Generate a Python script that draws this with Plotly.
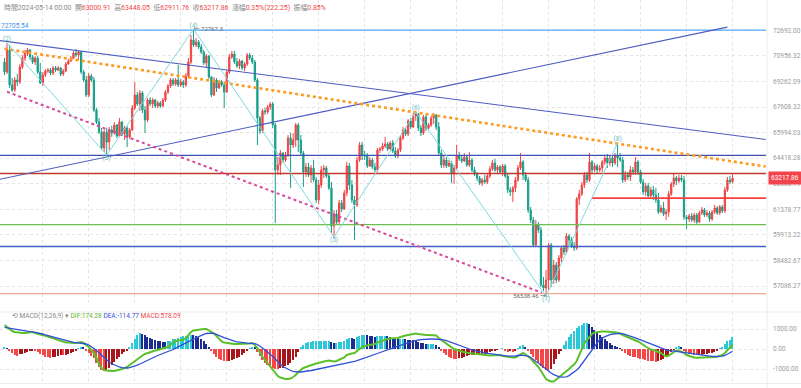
import math
import plotly.graph_objects as go

# ---------------- data (4H candles, index 0..285, last = 2024-05-14 00:00) ----------------
opens = [
    70548, 69884, 71352, 69031, 68706, 69358, 69227, 70215, 70815, 71150,
    71352, 70882, 70548, 70815, 69884, 69162, 69686, 69950, 70016, 69818,
    70149, 70016, 70149, 69752, 69950, 70415, 70614, 70815, 71150, 71016,
    71218, 69884, 69358, 68382, 69620, 69358, 67420, 66660, 66033, 65043,
    66033, 65412, 66158, 65971, 66471, 65784, 66660, 65908, 66283, 65722,
    66158, 67548, 68382, 67803, 68512, 67420, 66786, 68060, 67803, 68060,
    67675, 67867, 67675, 68060, 68576, 68966, 69358, 69096, 69358, 69031,
    69227, 69031, 69620, 70548, 72029, 71690, 71893, 71555, 71218, 70481,
    70949, 69555, 68382, 69358, 68836, 69227, 69031, 68576, 69884, 70882,
    71083, 70548, 70282, 70614, 70149, 70415, 71016, 70815, 70548, 69358,
    66912, 66096, 67356, 67293, 67611, 67803, 66471, 63705, 64007, 64736,
    64310, 64614, 65660, 65227, 65536, 66471, 65536, 64736, 63585, 63886,
    63405, 63826, 63106, 61925, 62809, 63705, 63826, 63345, 62631, 60423,
    61112, 60652, 61750, 61401, 62336, 63947, 62809, 61925, 61633, 64310,
    65227, 64614, 64553, 63947, 64310, 63886, 63705, 64920, 64981, 65166,
    65289, 64981, 65351, 64859, 64553, 64920, 65660, 66158, 65908, 66723,
    66346, 67039, 67166, 66283, 65971, 66976, 66283, 66471, 66912, 67102,
    66346, 64736, 64007, 64310, 63947, 64128, 63465, 63826, 64553, 64371,
    64249, 64492, 64007, 64310, 63705, 63465, 63226, 62928, 63106, 62987,
    63345, 63765, 64128, 63705, 63886, 63585, 63947, 63345, 62513, 62395,
    62631, 63106, 63826, 64189, 63405, 63106, 61343, 60766, 59348, 60480,
    60195, 57147, 56985, 57418, 59348, 57418, 58237, 57418, 58624, 59180,
    58957, 59854, 59628, 59292, 59180, 61984, 62277, 62809, 63405, 63106,
    64189, 63705, 63947, 63705, 63826, 64189, 64432, 64128, 64432, 64128,
    64553, 64432, 64310, 63106, 63405, 63285, 63705, 63585, 64189, 63585,
    62987, 62395, 62750, 62159, 62513, 62218, 61925, 61227, 61459, 61112,
    61227, 62277, 62868, 63226, 63047, 63226, 63106, 60939, 60824, 60996,
    60766, 61054, 60652, 61170, 61343, 61054, 61170, 60824, 61227, 61459,
    61170, 61517, 61285, 62513, 63106, 63000.91,
]
highs = [
    70815, 71826, 71690, 69489, 69555, 69752, 70415, 71016, 71352, 71487,
    71420, 71016, 70949, 70949, 70481, 69884, 70082, 70149, 70149, 70282,
    70282, 70282, 70215, 70082, 70548, 70748, 70949, 71285, 71420, 71352,
    71285, 70016, 69620, 69818, 69752, 69555, 67548, 66912, 66283, 66158,
    66283, 66346, 66408, 66660, 66534, 66912, 66723, 66408, 66408, 66283,
    67739, 69227, 68576, 68706, 68641, 67675, 68189, 68253, 68189, 68124,
    67996, 67996, 68189, 68706, 69096, 69489, 69489, 69489, 70348, 69424,
    69358, 69818, 70815, 72370, 72767.3, 72165, 72029, 71758, 71352, 71083,
    71016, 69620, 69555, 69489, 69358, 69358, 69227, 70016, 71083, 71285,
    71285, 70815, 70748, 70681, 70548, 71150, 71150, 71016, 70681, 69489,
    67039, 67484, 67548, 67739, 67932, 67932, 66597, 64492, 64920, 64798,
    64798, 65846, 65971, 65971, 66597, 66597, 65846, 64859, 64128, 64128,
    64007, 64310, 63285, 63106, 63947, 64007, 63947, 63525, 62987, 61343,
    61343, 61925, 61925, 62513, 64189, 64128, 63106, 62159, 64492, 65412,
    65412, 64859, 64736, 64492, 64432, 64128, 65043, 65104, 65351, 65722,
    65412, 65474, 65536, 65104, 65043, 65846, 66346, 66346, 66849, 66912,
    67229, 67293, 67229, 66471, 67102, 67102, 66597, 67039, 67229, 67166,
    66660, 64920, 64614, 64492, 64310, 64249, 64007, 65227, 64798, 64614,
    64736, 64614, 64798, 64432, 63886, 63585, 63345, 63226, 63405, 63465,
    63947, 64310, 64371, 64007, 64007, 64068, 64068, 63465, 62690, 62750,
    63285, 64007, 64736, 64310, 63585, 63285, 61517, 60939, 60766, 60652,
    60366, 57580, 57963, 59460, 59460, 58513, 58403, 58790, 59292, 59348,
    60025, 59968, 59798, 59516, 62101, 62513, 62987, 63585, 63585, 64736,
    64310, 64128, 64068, 64007, 64310, 64614, 64675, 64614, 64553, 64736,
    65351, 64736, 64492, 63645, 63585, 63947, 63886, 64492, 64310, 63705,
    63166, 62928, 62928, 62690, 62750, 62631, 62336, 61633, 61808, 61401,
    62454, 62987, 63525, 63345, 63405, 63405, 63345, 61054, 61112, 61170,
    61170, 61170, 61285, 61517, 61459, 61343, 61285, 61343, 61633, 61575,
    61633, 61633, 62690, 63285, 63345, 63448.05,
]
lows = [
    69686, 69752, 68836, 68576, 68576, 68966, 69096, 70082, 70614, 70949,
    70681, 70415, 70348, 69752, 69096, 68966, 69555, 69818, 69686, 69686,
    69884, 69950, 69620, 69620, 69884, 70348, 70548, 70748, 70882, 70681,
    69752, 69227, 68253, 68253, 69227, 67293, 66534, 65908, 64920, 64798,
    64614, 64920, 65722, 65846, 65660, 65722, 65784, 65536, 65104, 65598,
    66096, 67420, 67675, 67356, 67229, 65971, 66660, 67675, 67548, 67548,
    67548, 67548, 67611, 67932, 68447, 68836, 68966, 68966, 68901, 68901,
    68836, 68901, 69489, 70415, 71555, 71555, 71420, 71083, 70348, 70149,
    69424, 68253, 68318, 68576, 68771, 68901, 67548, 68512, 69752, 70748,
    70415, 70149, 70082, 70016, 69950, 70282, 70681, 70415, 69227, 65227,
    65908, 65971, 67102, 67166, 67420, 66283, 60594, 63405, 63405, 64128,
    64189, 64492, 62631, 65043, 65104, 64798, 64614, 62690, 63285, 63285,
    62928, 62987, 61750, 61691, 62631, 63226, 63226, 62513, 60025, 59798,
    60480, 60537, 61227, 61343, 62159, 62513, 61750, 59628, 61517, 64189,
    64310, 64310, 63826, 63886, 63765, 63585, 63585, 64736, 64859, 65043,
    64859, 64920, 64736, 64432, 64432, 64798, 65536, 65784, 65784, 66221,
    66283, 66723, 66096, 65784, 65846, 66096, 66158, 66346, 66534, 66158,
    64553, 63826, 63826, 63826, 63886, 62928, 62868, 63705, 64249, 64128,
    64189, 63886, 63886, 63585, 63345, 63047, 62809, 62750, 62868, 62868,
    63226, 63645, 63585, 63525, 63465, 63345, 63226, 62336, 62159, 61808,
    62395, 62987, 63705, 63106, 62987, 61170, 60594, 59236, 59236, 60025,
    57039, 56824, 56538.46, 56878, 57039, 57201, 57255, 57310, 58403, 58790,
    58846, 59236, 59180, 59012, 59068, 61633, 62159, 62631, 62928, 62987,
    63525, 63585, 63525, 63585, 63585, 64007, 63826, 63947, 63886, 64007,
    63886, 64189, 62928, 62987, 63106, 63047, 63405, 63405, 63405, 62868,
    62218, 62159, 62042, 62101, 61925, 61750, 61112, 61170, 60996, 60766,
    60939, 62159, 62690, 62809, 62928, 62987, 60766, 60252, 60652, 60652,
    60594, 60537, 60594, 61054, 60939, 60939, 60652, 60709, 61112, 61054,
    61054, 61170, 61170, 62395, 62868, 62911.76,
]
closes = [
    69884, 71352, 69031, 68706, 69358, 69227, 70215, 70815, 71150, 71352,
    70882, 70548, 70815, 69884, 69162, 69686, 69950, 70016, 69818, 70149,
    70016, 70149, 69752, 69950, 70415, 70614, 70815, 71150, 71016, 71218,
    69884, 69358, 68382, 69620, 69358, 67420, 66660, 66033, 65043, 66033,
    65412, 66158, 65971, 66471, 65784, 66660, 65908, 66283, 65722, 66158,
    67548, 68382, 67803, 68512, 67420, 66786, 68060, 67803, 68060, 67675,
    67867, 67675, 68060, 68576, 68966, 69358, 69096, 69358, 69031, 69227,
    69031, 69620, 70548, 72029, 71690, 71893, 71555, 71218, 70481, 70949,
    69555, 68382, 69358, 68836, 69227, 69031, 68576, 69884, 70882, 71083,
    70548, 70282, 70614, 70149, 70415, 71016, 70815, 70548, 69358, 66912,
    66096, 67356, 67293, 67611, 67803, 66471, 63705, 64007, 64736, 64310,
    64614, 65660, 65227, 65536, 66471, 65536, 64736, 63585, 63886, 63405,
    63826, 63106, 61925, 62809, 63705, 63826, 63345, 62631, 60423, 61112,
    60652, 61750, 61401, 62336, 63947, 62809, 61925, 61633, 64310, 65227,
    64614, 64553, 63947, 64310, 63886, 63705, 64920, 64981, 65166, 65289,
    64981, 65351, 64859, 64553, 64920, 65660, 66158, 65908, 66723, 66346,
    67039, 67166, 66283, 65971, 66976, 66283, 66471, 66912, 67102, 66346,
    64736, 64007, 64310, 63947, 64128, 63465, 63826, 64553, 64371, 64249,
    64492, 64007, 64310, 63705, 63465, 63226, 62928, 63106, 62987, 63345,
    63765, 64128, 63705, 63886, 63585, 63947, 63345, 62513, 62395, 62631,
    63106, 63826, 64189, 63405, 63106, 61343, 60766, 59348, 60480, 60195,
    57147, 56985, 57418, 59348, 57418, 58237, 57418, 58624, 59180, 58957,
    59854, 59628, 59292, 59180, 61984, 62277, 62809, 63405, 63106, 64189,
    63705, 63947, 63705, 63826, 64189, 64432, 64128, 64432, 64128, 64553,
    64432, 64310, 63106, 63405, 63285, 63705, 63585, 64189, 63585, 62987,
    62395, 62750, 62159, 62513, 62218, 61925, 61227, 61459, 61112, 61227,
    62277, 62868, 63226, 63047, 63226, 63106, 60939, 60824, 60996, 60766,
    61054, 60652, 61170, 61343, 61054, 61170, 60824, 61227, 61459, 61170,
    61517, 61285, 62513, 63106, 63001, 63217.86,
]

dif = [
    1200, 1100, 1000, 900, 850, 825, 800, 800, 800, 825,
    850, 850, 800, 750, 725, 700, 675, 625, 575, 550,
    500, 450, 400, 350, 325, 325, 300, 300, 300, 325,
    350, 300, 200, 100, -50, -200, -450, -750, -950, -1050,
    -1075, -1100, -1100, -1100, -1075, -1050, -1000, -950, -900, -800,
    -700, -600, -500, -400, -325, -250, -200, -150, -100, -75,
    -50, 0, 50, 75, 100, 200, 350, 400, 425, 450,
    450, 550, 700, 850, 925, 950, 975, 1000, 1000, 1000,
    925, 850, 775, 650, 500, 375, 325, 300, 275, 250,
    250, 250, 250, 250, 250, 250, 275, 300, 200, 50,
    -200, -400, -550, -700, -850, -1000, -1200, -1350, -1425, -1475,
    -1500, -1500, -1475, -1400, -1300, -1150, -1050, -950, -900, -850,
    -800, -750, -725, -700, -650, -625, -600, -575, -600, -625,
    -600, -550, -500, -425, -300, -250, -225, -200, -100, 25,
    100, 150, 175, 200, 225, 250, 325, 375, 425, 475,
    500, 525, 525, 525, 550, 600, 650, 675, 700, 725,
    750, 775, 750, 725, 725, 700, 700, 700, 700, 675,
    550, 450, 350, 250, 160, 80, 0, -50, -90, -130,
    -160, -190, -210, -230, -250, -270, -290, -300, -310, -315,
    -320, -315, -310, -305, -300, -350, -375, -400, -400, -425,
    -425, -350, -250, -200, -275, -375, -475, -625, -750, -900,
    -1100, -1300, -1500, -1575, -1625, -1625, -1525, -1425, -1300, -1200,
    -1125, -1000, -875, -775, -600, -300, 50, 300, 450, 600,
    750, 825, 850, 865, 875, 875, 875, 865, 850, 835,
    815, 775, 700, 650, 600, 550, 500, 450, 375, 300,
    200, 125, 50, -25, -50, -100, -150, -200, -300, -375,
    -325, -250, -150, -75, -75, -125, -200, -300, -350, -400,
    -425, -435, -435, -425, -415, -415, -415, -400, -400, -385,
    -350, -300, -200, -50, 80, 174.28,
]
dea = [
    1085, 1060, 1035, 1010, 985, 960, 935, 915, 900, 885,
    870, 860, 840, 810, 780, 750, 710, 675, 635, 600,
    560, 520, 480, 440, 400, 370, 350, 330, 315, 305,
    300, 285, 250, 200, 125, 25, -75, -200, -325, -440,
    -550, -650, -740, -800, -850, -900, -930, -950, -950, -930,
    -900, -860, -810, -750, -685, -620, -550, -490, -430, -375,
    -325, -275, -225, -185, -150, -85, -25, 40, 100, 150,
    210, 275, 350, 420, 490, 560, 625, 685, 735, 775,
    790, 790, 775, 735, 675, 620, 570, 520, 470, 425,
    390, 360, 335, 315, 300, 290, 285, 280, 265, 225,
    150, 50, -50, -150, -250, -375, -500, -650, -775, -875,
    -950, -1025, -1075, -1115, -1140, -1150, -1150, -1140, -1125, -1100,
    -1075, -1050, -1025, -1000, -975, -950, -925, -900, -875, -850,
    -825, -800, -775, -750, -715, -680, -650, -620, -580, -540,
    -500, -455, -410, -365, -320, -275, -225, -175, -125, -80,
    -35, 10, 55, 100, 140, 185, 230, 270, 310, 350,
    385, 420, 450, 470, 485, 495, 500, 500, 500, 495,
    490, 480, 455, 420, 370, 320, 270, 220, 170, 125,
    80, 40, 0, -40, -75, -105, -135, -165, -190, -215,
    -235, -255, -270, -285, -300, -340, -350, -355, -360, -365,
    -350, -325, -300, -315, -330, -360, -425, -550, -625, -700,
    -810, -915, -1025, -1115, -1200, -1280, -1340, -1380, -1405, -1415,
    -1390, -1330, -1250, -1150, -1050, -925, -750, -560, -385, -200,
    0, 160, 325, 475, 560, 620, 675, 715, 750, 770,
    780, 785, 770, 735, 700, 655, 610, 560, 505, 455,
    400, 345, 290, 235, 185, 130, 85, 45, 5, -40,
    -65, -85, -100, -110, -120, -130, -150, -170, -195, -220,
    -245, -270, -290, -310, -325, -340, -355, -370, -375, -375,
    -370, -355, -325, -270, -190, -114.77,
]
macd_hist = [
    80, 40, -70, -200, -300, -330, -270, -230, -200, -150,
    -100, -80, -100, -150, -250, -300, -380, -420, -450, -420,
    -380, -330, -300, -300, -280, -230, -180, -130, -60, 40,
    100, 60, -80, -200, -350, -450, -700, -900, -1050, -1100,
    -1050, -950, -800, -650, -500, -380, -250, -150, -80, 100,
    300, 500, 700, 780, 750, 680, 620, 560, 500, 450,
    400, 380, 350, 340, 380, 420, 480, 520, 560, 600,
    630, 660, 700, 720, 700, 650, 580, 500, 400, 250,
    80, -100, -250, -400, -500, -560, -600, -620, -600, -550,
    -500, -450, -400, -320, -220, -100, 50, 100, 60, -150,
    -350, -550, -700, -800, -880, -930, -980, -1000, -970, -930,
    -870, -800, -700, -550, -380, -150, 100, 200, 280, 330,
    360, 380, 390, 390, 400, 400, 400, 400, 350, 300,
    300, 330, 360, 420, 520, 540, 530, 520, 580, 660,
    700, 700, 680, 660, 640, 620, 650, 650, 650, 650,
    630, 600, 560, 510, 490, 500, 500, 480, 460, 440,
    430, 420, 360, 300, 280, 240, 240, 240, 240, 220,
    100, -60, -180, -300, -400, -460, -500, -500, -470, -430,
    -390, -350, -320, -300, -290, -280, -270, -260, -240, -200,
    -160, -110, -60, -20, 0, 50, -120, -150, -120, -130,
    -100, 50, 150, 200, 100, -100, -250, -400, -550, -700,
    -850, -950, -1050, -1100, -1000, -750, -500, -250, -100, 200,
    400, 600, 750, 900, 1050, 1150, 1200, 1280, 1300, 1250,
    1120, 970, 830, 700, 600, 480, 380, 300, 220, 150,
    80, 20, -100, -200, -280, -330, -380, -420, -450, -480,
    -520, -550, -580, -600, -620, -630, -620, -560, -500, -420,
    -280, -150, -40, 80, 150, 120, -80, -180, -230, -270,
    -300, -310, -300, -280, -250, -230, -210, -180, -140, -60,
    40, 120, 250, 380, 470, 578.09,
]

# wave (zigzag) pivots: candle index and label
wave_idx = [1, 40, 74, 129, 161, 212, 240]
wave_is_high = [True, False, True, False, True, False, True]
wave_labels = ["(2)", "(3)", "(4)", "(5)", "(6)", "(7)", "(8)"]

# trend lines: (index, price) anchors
desc_line_i, desc_line_p = [-2, 298], [71988, 65567]
orange_line_i, orange_line_p = [0, 298], [71430, 63910]
rise_line_i, rise_line_p = [-2, 283], [63142, 72911]
magenta_line_i, magenta_line_p = [1, 210.3], [68589, 56733]

# horizontal levels
h_levels = [72705.54, 64585, 63494, 60504, 59261, 56680]
h_colors = ["#55a8f5", "#3f4fb2", "#c0392b", "#6cbf4a", "#4262c8", "#f2a793"]
partial_level, partial_start = 62032, 230

price_tick_vals = [72692.00, 70956.32, 69262.09, 67608.32, 65994.03, 64418.28,
                   62880.19, 61378.77, 59913.22, 58482.67, 57086.27]
price_tick_text = ["72692.00", "70956.32", "69262.09", "67608.32", "65994.03", "64418.28",
                   "62880.19", "61378.77", "59913.22", "58482.67", "57086.27"]
macd_tick_vals = [-1000, 0, 1000]
macd_tick_text = ["-1000.00", "0.00", "1000.00"]
grid_idx = list(range(15, 286, 18))

# ---------------- geometry / styles ----------------
W, H = 801, 388
PLOT_R = 766.0
X0_PX, DX_PX = 4.5, 2.5545
PANE_TOP, PANE_BOT = 0.0, 303.0
MACD_TOP, MACD_BOT = 312.0, 383.0
REF_P, REF_Y, PX_PER_LN = 72692.0, 30.3, 1058.4
MACD_ZERO_Y, MACD_PX_PER_1000 = 349.0, 20.0

UP, DN = "#ef4545", "#179e8a"
FONT = "Roboto, 'Noto Sans CJK TC', sans-serif"

n = len(closes)
idx = list(range(n))
xr0 = -X0_PX / DX_PX
xr1 = xr0 + PLOT_R / DX_PX

def price_at(ypx):
    return REF_P * math.exp(-(ypx - REF_Y) / PX_PER_LN)

y_range = [math.log10(price_at(PANE_BOT)), math.log10(price_at(PANE_TOP))]
m_range = [(MACD_ZERO_Y - MACD_BOT) / MACD_PX_PER_1000 * 1000,
           (MACD_ZERO_Y - MACD_TOP) / MACD_PX_PER_1000 * 1000]

fig = go.Figure()

# horizontal lines
for lv, col in zip(h_levels, h_colors):
    fig.add_trace(go.Scatter(x=[xr0, xr1], y=[lv, lv], mode="lines",
                             line=dict(color=col, width=1.3), hoverinfo="skip",
                             showlegend=False, xaxis="x", yaxis="y"))
fig.add_trace(go.Scatter(x=[partial_start, xr1], y=[partial_level, partial_level], mode="lines",
                         line=dict(color="#ff3b3b", width=1.6), hoverinfo="skip",
                         showlegend=False, xaxis="x", yaxis="y"))

# trend lines
fig.add_trace(go.Scatter(x=desc_line_i, y=desc_line_p, mode="lines",
                         line=dict(color="#4c5cc0", width=1.1), hoverinfo="skip", showlegend=False))
fig.add_trace(go.Scatter(x=rise_line_i, y=rise_line_p, mode="lines",
                         line=dict(color="#4c5cc0", width=1.1), hoverinfo="skip", showlegend=False))
fig.add_trace(go.Scatter(x=orange_line_i, y=orange_line_p, mode="lines",
                         line=dict(color="#ff9a1f", width=2.6, dash="dot"), hoverinfo="skip", showlegend=False))
fig.add_trace(go.Scatter(x=magenta_line_i, y=magenta_line_p, mode="lines",
                         line=dict(color="#d9479a", width=2, dash="dot"), hoverinfo="skip", showlegend=False))

# candles
fig.add_trace(go.Candlestick(
    x=idx, open=opens, high=highs, low=lows, close=closes,
    increasing=dict(line=dict(color=UP, width=1), fillcolor=UP),
    decreasing=dict(line=dict(color=DN, width=1), fillcolor=DN),
    whiskerwidth=0, hoverinfo="skip", showlegend=False, xaxis="x", yaxis="y"))

# wave zigzag
wave_p = [highs[i] if hi else lows[i] for i, hi in zip(wave_idx, wave_is_high)]
fig.add_trace(go.Scatter(x=wave_idx, y=wave_p, mode="lines",
                         line=dict(color="#7fd9dd", width=1), hoverinfo="skip", showlegend=False))
for i, p, hi, lab in zip(wave_idx, wave_p, wave_is_high, wave_labels):
    fig.add_trace(go.Scatter(x=[i], y=[p], mode="text", text=[lab],
                             textposition="top center" if hi else "bottom center",
                             textfont=dict(size=6.5, color="#6fb9c0", family=FONT),
                             hoverinfo="skip", showlegend=False))

# extreme labels
fig.add_trace(go.Scatter(x=[wave_idx[2]], y=[wave_p[2]], mode="text", text=["← 72767.3"],
                         textposition="middle right", textfont=dict(size=6, color="#666", family=FONT),
                         hoverinfo="skip", showlegend=False))
fig.add_trace(go.Scatter(x=[wave_idx[5]], y=[wave_p[5]], mode="text", text=["56538.46 →"],
                         textposition="middle left", textfont=dict(size=6, color="#666", family=FONT),
                         hoverinfo="skip", showlegend=False))
fig.add_trace(go.Scatter(x=[xr0 + 0.4], y=[h_levels[0]], mode="text", text=["72705.54"],
                         textposition="top right", textfont=dict(size=6.5, color="#3d8fe8", family=FONT),
                         hoverinfo="skip", showlegend=False))

# MACD
CY, NV, RD, DR = "#2cc7d8", "#1d2b8f", "#f44848", "#a8161c"
hist_colors = []
for k, v in enumerate(macd_hist):
    prev = macd_hist[k - 1] if k else v
    if v >= 0:
        hist_colors.append(CY if v >= prev else NV)
    else:
        hist_colors.append(RD if v <= prev else DR)
fig.add_trace(go.Bar(x=idx, y=macd_hist, marker=dict(color=hist_colors, line=dict(width=0)),
                     width=0.55, hoverinfo="skip", showlegend=False, xaxis="x2", yaxis="y2"))
fig.add_trace(go.Scatter(x=idx, y=dif, mode="lines", line=dict(color="#5cc02a", width=2),
                         hoverinfo="skip", showlegend=False, xaxis="x2", yaxis="y2"))
fig.add_trace(go.Scatter(x=idx, y=dea, mode="lines", line=dict(color="#3050d8", width=1.3),
                         hoverinfo="skip", showlegend=False, xaxis="x2", yaxis="y2"))

grid_kw = dict(showgrid=True, gridcolor="#e4e4e4", griddash="dot", gridwidth=1, zeroline=False)
fig.update_layout(
    width=W, height=H, margin=dict(l=0, r=0, t=0, b=0),
    paper_bgcolor="white", plot_bgcolor="white", font=dict(family=FONT),
    bargap=0,
    xaxis=dict(domain=[0, PLOT_R / W], range=[xr0, xr1], tickvals=grid_idx, showticklabels=False,
               ticks="", anchor="y", rangeslider=dict(visible=False), showline=False, **grid_kw),
    yaxis=dict(domain=[(H - PANE_BOT) / H, (H - PANE_TOP) / H], type="log", range=y_range,
               side="right", anchor="x", tickvals=price_tick_vals, ticktext=price_tick_text,
               tickfont=dict(size=6.5, color="#9a9a9a", family=FONT), ticks="",
               ticklabelstandoff=6, showline=False, **grid_kw),
    xaxis2=dict(domain=[0, PLOT_R / W], range=[xr0, xr1], tickvals=grid_idx, showticklabels=False,
                ticks="", anchor="y2", showline=False, **grid_kw),
    yaxis2=dict(domain=[(H - MACD_BOT) / H, (H - MACD_TOP) / H], range=m_range, side="right",
                anchor="x2", tickvals=macd_tick_vals, ticktext=macd_tick_text,
                tickfont=dict(size=6.5, color="#9a9a9a", family=FONT), ticks="",
                ticklabelstandoff=6, showline=False, **grid_kw),
)

# separators
fig.add_shape(type="line", xref="paper", yref="paper", x0=767 / W, x1=767 / W, y0=0, y1=1,
              line=dict(color="#ececec", width=1))
fig.add_shape(type="line", xref="paper", yref="paper", x0=0, x1=1, y0=(H - 312) / H, y1=(H - 312) / H,
              line=dict(color="#ececec", width=1))
fig.add_shape(type="line", xref="paper", yref="paper", x0=0, x1=1, y0=(H - 383.5) / H, y1=(H - 383.5) / H,
              line=dict(color="#ececec", width=1))

# last price tag
fig.add_annotation(xref="paper", yref="y", x=768 / W, y=math.log10(closes[-1]), xanchor="left",
                   text="63217.86", showarrow=False, bgcolor="#f2444d", borderpad=2,
                   font=dict(size=6.5, color="white", family=FONT))

# header
g, r = "#8a8a8a", "#f04848"
sp = "&nbsp;&nbsp;"
hdr = (f"<span style='color:{g}'>時間2024-05-14 00:00</span>{sp}"
       f"<span style='color:{g}'>開</span><span style='color:{r}'>63000.91</span>{sp}"
       f"<span style='color:{g}'>高</span><span style='color:{r}'>63448.05</span>{sp}"
       f"<span style='color:{g}'>低</span><span style='color:{r}'>62911.76</span>{sp}"
       f"<span style='color:{g}'>收</span><span style='color:{r}'>63217.86</span>{sp}"
       f"<span style='color:{g}'>漲幅</span><span style='color:{r}'>0.35%(222.25)</span>{sp}"
       f"<span style='color:{g}'>振幅</span><span style='color:{r}'>0.85%</span>")
fig.add_annotation(xref="paper", yref="paper", x=2 / W, y=1 - 7 / H, xanchor="left", yanchor="middle",
                   text=hdr, showarrow=False, font=dict(size=6.9, family=FONT))

mh = ("<span style='color:#8a8a8a'>⟲ MACD(12,26,9) ▾ </span>"
      "<span style='color:#5cb82a'>DIF:174.28 </span>"
      "<span style='color:#3050d8'>DEA:-114.77 </span>"
      "<span style='color:#f04848'>MACD:578.09</span>")
fig.add_annotation(xref="paper", yref="paper", x=10 / W, y=1 - 316 / H, xanchor="left", yanchor="middle",
                   text=mh, showarrow=False, font=dict(size=6.5, family=FONT))

# page body has a default 8px margin; remove it so the figure sits at the window origin
fig.write_html("out.html", config={"displayModeBar": False},
               post_script="document.body.style.margin='0';")
